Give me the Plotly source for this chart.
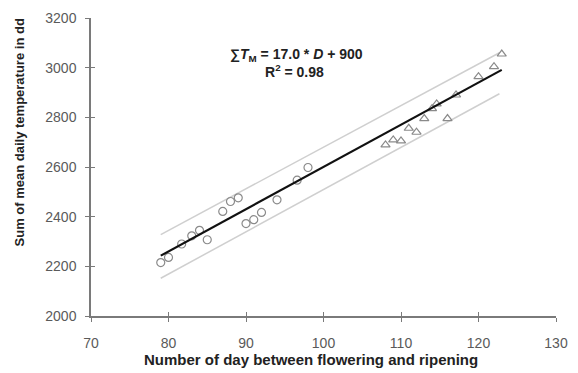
import plotly.graph_objects as go

# Data
circle_x = [79, 80, 81.7, 83, 84, 85, 87, 88, 89, 90, 91, 92, 94, 96.6, 98]
circle_y = [2215, 2236, 2290, 2323, 2345, 2307, 2421, 2461, 2476, 2372, 2388, 2417, 2468, 2547, 2598]
tri_x = [108, 109, 110, 111, 112, 113, 114, 114.6, 116, 117.1, 120, 122, 123]
tri_y = [2689, 2709, 2705, 2756, 2740, 2795, 2835, 2854, 2795, 2890, 2964, 3004, 3055]
fit_x = [79, 123]
slope, intercept = 17.0, 900
fit_y = [slope * x + intercept for x in fit_x]
band_x = [79, 122.7]
band_upper = [2328, 3060]
band_lower = [2152, 2895]
x_ticks = [70, 80, 90, 100, 110, 120, 130]
y_ticks = [2000, 2200, 2400, 2600, 2800, 3000, 3200]

font = "Liberation Sans, Arial, sans-serif"
fig = go.Figure()
fig.add_trace(go.Scatter(x=band_x, y=band_upper, mode="lines",
                         line=dict(color="#cfcfcf", width=1.5), hoverinfo="skip"))
fig.add_trace(go.Scatter(x=band_x, y=band_lower, mode="lines",
                         line=dict(color="#cfcfcf", width=1.5), hoverinfo="skip"))
fig.add_trace(go.Scatter(x=circle_x, y=circle_y, mode="markers",
                         marker=dict(symbol="circle-open", size=8, color="#8a8a8a",
                                     line=dict(width=1.2))))
fig.add_trace(go.Scatter(x=tri_x, y=tri_y, mode="markers",
                         marker=dict(symbol="triangle-up-open", size=8, color="#8a8a8a",
                                     line=dict(width=1.2))))
fig.add_trace(go.Scatter(x=fit_x, y=fit_y, mode="lines",
                         line=dict(color="#111111", width=2.2)))

axis_common = dict(showgrid=False, zeroline=False, showline=True, linecolor="#7a7a7a",
                   linewidth=1.5, ticks="outside", ticklen=4, tickwidth=1, tickcolor="#7a7a7a",
                   tickfont=dict(family=font, size=14, color="#5a5a5a"))
fig.update_layout(
    width=578, height=373,
    margin=dict(l=91, r=12, t=10, b=57),
    plot_bgcolor="white", paper_bgcolor="white",
    showlegend=False,
    xaxis=dict(range=[70, 130], tickvals=x_ticks, ticklabelstandoff=9, **axis_common),
    yaxis=dict(range=[2000, 3200], tickvals=y_ticks, ticklabelstandoff=6, **axis_common),
    xaxis2=dict(range=[70, 130], tickvals=x_ticks, overlaying="x", side="bottom",
                showgrid=False, zeroline=False, showticklabels=False, ticks="inside",
                ticklen=4, tickcolor="#7a7a7a"),
    yaxis2=dict(range=[2000, 3200], tickvals=y_ticks, overlaying="y", side="left",
                showgrid=False, zeroline=False, showticklabels=False, ticks="inside",
                ticklen=4, tickcolor="#7a7a7a"),
)
fig.add_trace(go.Scatter(x=[70], y=[2000], xaxis="x2", yaxis="y2", mode="markers",
                         marker=dict(opacity=0), hoverinfo="skip"))

def px(xp):
    return (xp - 91) / (566 - 91)
def py(yp):
    return (316 - yp) / (316 - 10)

fig.add_annotation(x=px(301), y=py(48), xref="paper", yref="paper", showarrow=False,
                   xanchor="center", yanchor="middle",
                   text="<b>∑<i>T</i><sub>M</sub> = 17.0 * <i>D</i> + 900</b>",
                   font=dict(family=font, size=14, color="#222222"))
fig.add_annotation(x=px(299), y=py(64), xref="paper", yref="paper", showarrow=False,
                   xanchor="center", yanchor="middle",
                   text="<b>R<sup>2</sup> = 0.98</b>",
                   font=dict(family=font, size=14, color="#222222"))
fig.add_annotation(x=px(316), y=py(361), xref="paper", yref="paper", showarrow=False,
                   xanchor="center", yanchor="middle",
                   text="<b>Number of day between flowering and ripening</b>",
                   font=dict(family=font, size=15, color="#222222"))
fig.add_annotation(x=px(18), y=py(128), xref="paper", yref="paper", showarrow=False,
                   xanchor="center", yanchor="middle", textangle=-90,
                   text="<b>Sum of mean daily temperature in dd</b>",
                   font=dict(family=font, size=13, color="#222222"))
fig.write_html("out.html")
